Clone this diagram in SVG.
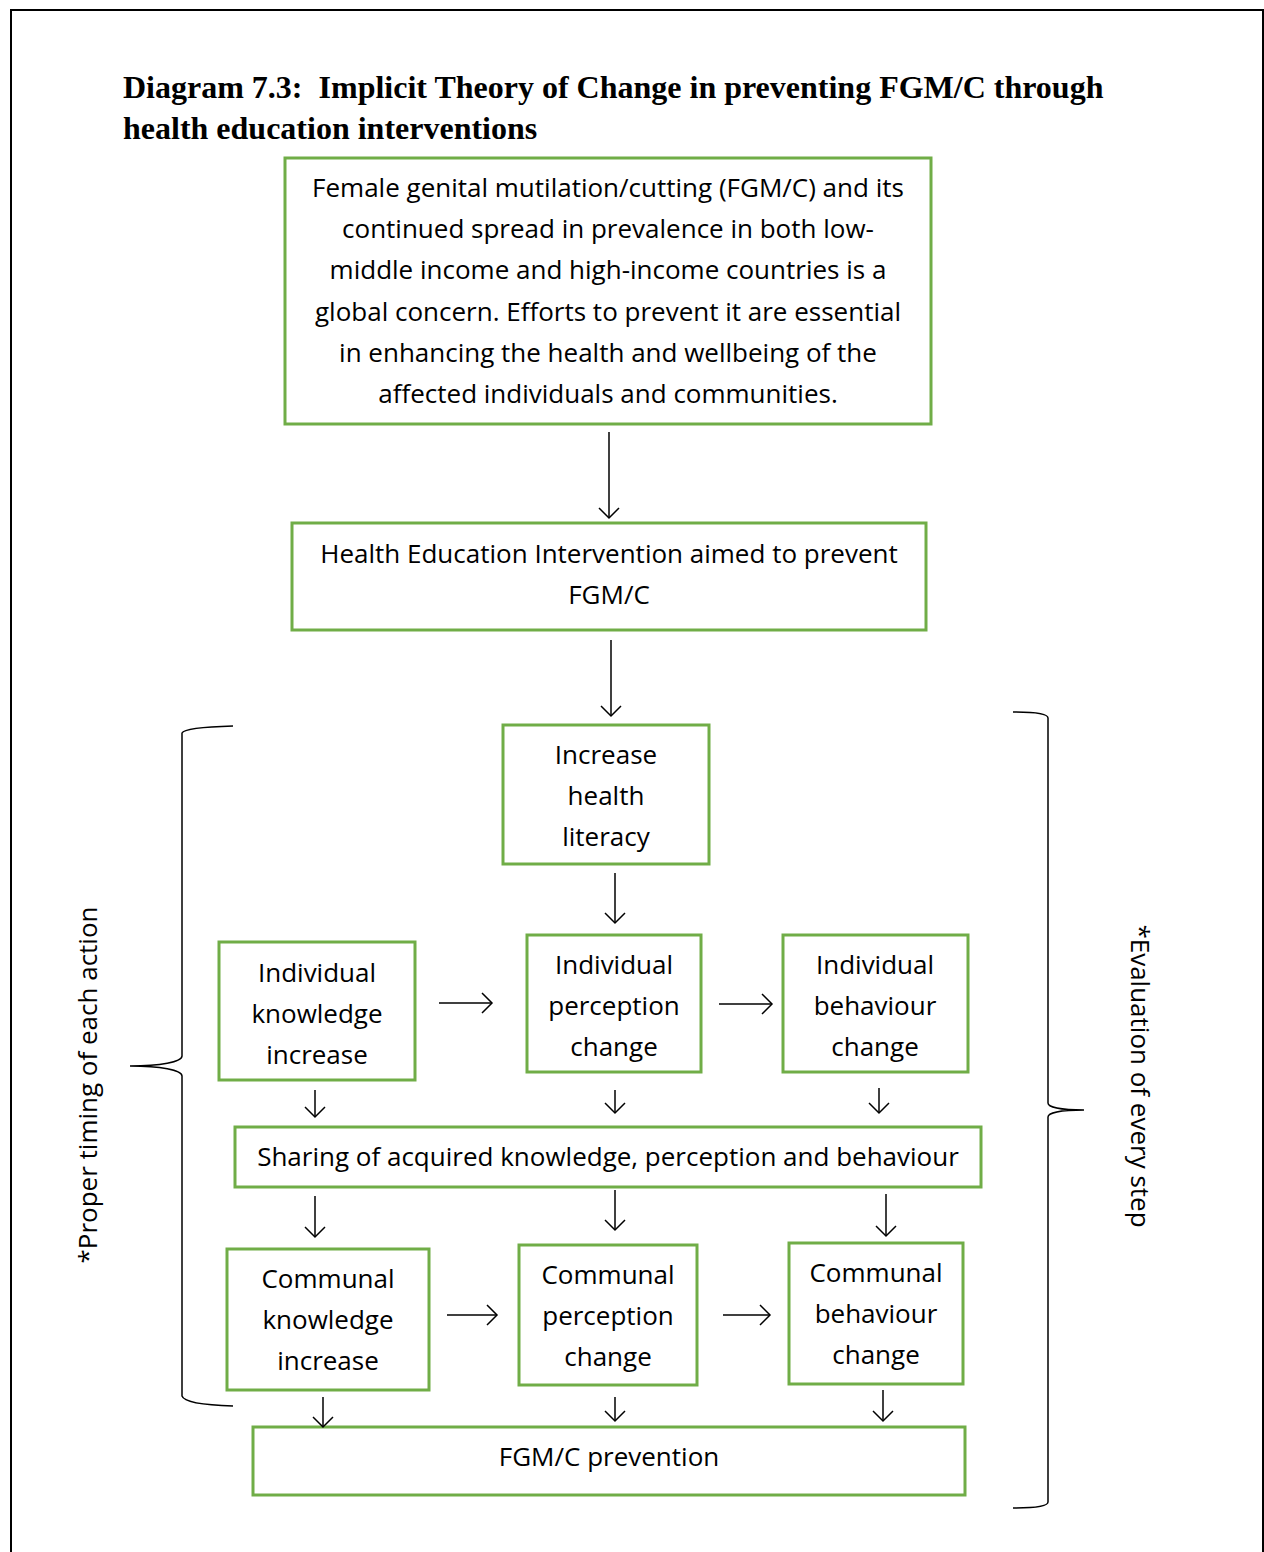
<svg xmlns="http://www.w3.org/2000/svg" width="1264" height="1552" viewBox="0 0 1264 1552">
<defs>
<style>
.box{fill:#fff;stroke:#70AD47;stroke-width:3}
.t{font-family:"Open Sans","Liberation Sans",sans-serif;font-size:26px;fill:#000;text-anchor:middle}
.title{font-family:"Liberation Serif","Times New Roman",serif;font-weight:bold;font-size:32px;fill:#000}
.c{stroke:#000;stroke-width:1.5;fill:none}
.brace{stroke:#000;stroke-width:1.5;fill:none}
</style>
<marker id="ah" markerWidth="24" markerHeight="24" refX="12" refY="12" orient="auto" markerUnits="userSpaceOnUse">
<path d="M2,2 L12,12 L2,22" fill="none" stroke="#000" stroke-width="1.5"/>
</marker>
</defs>
<rect width="1264" height="1552" fill="#fff"/>
<path d="M11,1552 V10 H1263 V1552" fill="none" stroke="#000" stroke-width="2"/>
<g id="title">
<text class="title" x="123" y="98" xml:space="preserve">Diagram 7.3:  Implicit Theory of Change in preventing FGM/C through</text>
<text class="title" x="123" y="139">health education interventions</text>
</g>
<g id="n1">
<rect class="box" x="285" y="158" width="646" height="266"/>
<text class="t" x="608" y="197">Female genital mutilation/cutting (FGM/C) and its</text>
<text class="t" x="608" y="238">continued spread in prevalence in both low-</text>
<text class="t" x="608" y="279">middle income and high-income countries is a</text>
<text class="t" x="608" y="321">global concern. Efforts to prevent it are essential</text>
<text class="t" x="608" y="362">in enhancing the health and wellbeing of the</text>
<text class="t" x="608" y="403">affected individuals and communities.</text>
</g>
<g id="n2">
<rect class="box" x="292" y="523" width="634" height="107"/>
<text class="t" x="609" y="563">Health Education Intervention aimed to prevent</text>
<text class="t" x="609" y="604">FGM/C</text>
</g>
<g id="n3">
<rect class="box" x="503" y="725" width="206" height="139"/>
<text class="t" x="606" y="764">Increase</text>
<text class="t" x="606" y="805">health</text>
<text class="t" x="606" y="846">literacy</text>
</g>
<g id="n4">
<rect class="box" x="219" y="942" width="196" height="138"/>
<text class="t" x="317" y="982">Individual</text>
<text class="t" x="317" y="1023">knowledge</text>
<text class="t" x="317" y="1064">increase</text>
</g>
<g id="n5">
<rect class="box" x="527" y="935" width="174" height="137"/>
<text class="t" x="614" y="974">Individual</text>
<text class="t" x="614" y="1015">perception</text>
<text class="t" x="614" y="1056">change</text>
</g>
<g id="n6">
<rect class="box" x="783" y="935" width="185" height="137"/>
<text class="t" x="875" y="974">Individual</text>
<text class="t" x="875" y="1015">behaviour</text>
<text class="t" x="875" y="1056">change</text>
</g>
<g id="n7">
<rect class="box" x="235" y="1127" width="746" height="60"/>
<text class="t" x="608" y="1166">Sharing of acquired knowledge, perception and behaviour</text>
</g>
<g id="n8">
<rect class="box" x="227" y="1249" width="202" height="141"/>
<text class="t" x="328" y="1288">Communal</text>
<text class="t" x="328" y="1329">knowledge</text>
<text class="t" x="328" y="1370">increase</text>
</g>
<g id="n9">
<rect class="box" x="519" y="1245" width="178" height="140"/>
<text class="t" x="608" y="1284">Communal</text>
<text class="t" x="608" y="1325">perception</text>
<text class="t" x="608" y="1366">change</text>
</g>
<g id="n10">
<rect class="box" x="789" y="1243" width="174" height="141"/>
<text class="t" x="876" y="1282">Communal</text>
<text class="t" x="876" y="1323">behaviour</text>
<text class="t" x="876" y="1364">change</text>
</g>
<g id="n11">
<rect class="box" x="253" y="1427" width="712" height="68"/>
<text class="t" x="609" y="1466">FGM/C prevention</text>
</g>
<g id="connectors">
<line class="c" x1="609" y1="432" x2="609" y2="518" marker-end="url(#ah)"/>
<line class="c" x1="611" y1="640" x2="611" y2="716" marker-end="url(#ah)"/>
<line class="c" x1="615" y1="873" x2="615" y2="923" marker-end="url(#ah)"/>
<line class="c" x1="439" y1="1003" x2="492" y2="1003" marker-end="url(#ah)"/>
<line class="c" x1="719" y1="1004" x2="772" y2="1004" marker-end="url(#ah)"/>
<line class="c" x1="315" y1="1090" x2="315" y2="1117" marker-end="url(#ah)"/>
<line class="c" x1="615" y1="1090" x2="615" y2="1113" marker-end="url(#ah)"/>
<line class="c" x1="879" y1="1088" x2="879" y2="1113" marker-end="url(#ah)"/>
<line class="c" x1="315" y1="1196" x2="315" y2="1237" marker-end="url(#ah)"/>
<line class="c" x1="615" y1="1190" x2="615" y2="1230" marker-end="url(#ah)"/>
<line class="c" x1="886" y1="1194" x2="886" y2="1236" marker-end="url(#ah)"/>
<line class="c" x1="447" y1="1315" x2="497" y2="1315" marker-end="url(#ah)"/>
<line class="c" x1="723" y1="1315" x2="770" y2="1315" marker-end="url(#ah)"/>
<line class="c" x1="323" y1="1397" x2="323" y2="1427" marker-end="url(#ah)"/>
<line class="c" x1="615" y1="1397" x2="615" y2="1421" marker-end="url(#ah)"/>
<line class="c" x1="883" y1="1390" x2="883" y2="1421" marker-end="url(#ah)"/>
</g>
<g id="brace-left">
<path class="brace" d="M233,726 C200,727 184,729 182,733 V1056 C182,1062 160,1066 130,1066 C160,1066 182,1070 182,1076 V1396 C184,1402 200,1405 233,1406"/>
<text class="t" transform="translate(97,1085) rotate(-90)">*Proper timing of each action</text>
</g>
<g id="brace-right">
<path class="brace" d="M1013,712 C1035,712 1048,714 1048,718 V1103 C1048,1107 1060,1110 1084,1110 C1060,1110 1048,1113 1048,1117 V1502 C1048,1506 1035,1508 1013,1508"/>
<text class="t" transform="translate(1131,1076) rotate(90)">*Evaluation of every step</text>
</g>
</svg>
